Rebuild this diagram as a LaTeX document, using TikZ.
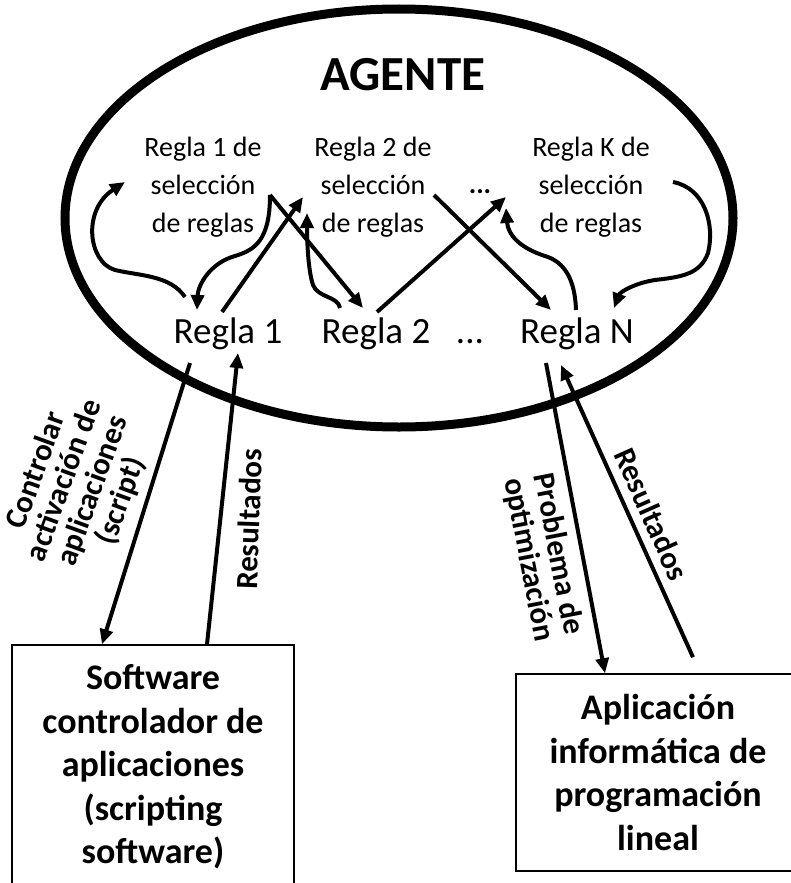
\documentclass[tikz,border=0pt]{standalone}
\usepackage{fontspec}
\setmainfont{Carlito}
\usetikzlibrary{arrows.meta,calc}

\begin{document}
\begin{tikzpicture}[x=1pt,y=-1pt,>={Triangle[length=15pt,width=13pt]}]
\tikzstyle{sel}=[inner sep=0,align=center,font=\fontsize{28}{38}\selectfont]
\tikzstyle{rule}=[inner sep=0,anchor=base,font=\fontsize{37}{44}\selectfont]
\tikzstyle{lab}=[inner sep=0,align=center,font=\bfseries\fontsize{31}{30}\selectfont]
\tikzstyle{app}=[draw,line width=1.5pt,inner sep=0,align=center,font=\bfseries\fontsize{36}{43.5}\selectfont]
\tikzstyle{ar}=[->,line width=4pt]
\useasboundingbox (0,0) rectangle (791,883);
\clip (0,0) rectangle (791,883);
% the agent
\draw[line width=9pt] (399,218) ellipse [x radius=334,y radius=209];
\node[inner sep=0,anchor=base,font=\bfseries\fontsize{49}{58}\selectfont] (ag) at (403,90) {AGENTE};
% selection rules
\node[sel] (s1) at (203,187) {Regla 1 de\\selección\\de reglas};
\node[sel] (s2) at (373,187) {Regla 2 de\\selección\\de reglas};
\node[inner sep=0,anchor=base,font=\bfseries\fontsize{28}{38}\selectfont] (dotsU) at (480,193) {...};
\node[sel] (sK) at (591,187) {Regla K de\\selección\\de reglas};
% rules
\node[rule] (r1) at (228,343) {Regla 1};
\node[rule] (r2) at (376,343) {Regla 2};
\node[rule] (dotsL) at (470,343) {...};
\node[rule] (rN) at (577,343) {Regla N};
% applications
\node[app,minimum width=282,minimum height=244] (sw) at (153,767) {Software\\controlador de\\aplicaciones\\(scripting\\software)};
\node[app,minimum width=284,minimum height=197] (lp) at (658,772.5) {Aplicación\\informática de\\programación\\lineal};
% arrows inside the agent
\draw[ar] ($(r1.base)+(-43,-46)$) .. controls (170,275) and (140,276) .. (115,270) .. controls (88,262) and (82,210) .. ($(s1.center)+(-78,-5)$);
\draw[ar] ($(s1.center)+(67,8)$) .. controls (270,240) and (255,250) .. (235,256) .. controls (210,263) and (198,285) .. ($(r1.base)+(-31,-33)$);
\draw[ar] ($(r1.base)+(-6,-31)$) -- ($(s2.center)+(-70,10)$);
\draw[ar] ($(s1.center)+(67,8)$) -- ($(r2.base)+(-13,-35)$);
\draw[ar] ($(r2.base)+(-36,-35)$) .. controls (338,296) and (318,298) .. (313,285) .. controls (308,270) and (307,240) .. ($(s2.center)+(-66,26)$);
\draw[ar] ($(r2.base)+(1,-31)$) -- ($(dotsU.base)+(26,4)$);
\draw[ar] ($(s2.center)+(61,8)$) -- ($(rN.base)+(-26,-33)$);
\draw[ar] ($(rN.base)+(-1,-33)$) .. controls (575,280) and (565,262) .. (545,256) .. controls (520,248) and (508,235) .. ($(sK.center)+(-85,21)$);
\draw[ar] ($(sK.center)+(82,-5)$) .. controls (705,188) and (715,225) .. (708,253) .. controls (700,275) and (680,277) .. (655,280) .. controls (635,283) and (620,292) .. ($(rN.base)+(37,-35)$);
% arrows to the applications
\draw[ar] ($(r1.base)+(-38,20)$) -- ($(sw.north)+(-51,0)$);
\draw[ar] ($(sw.north)+(54,0)$) -- ($(r1.base)+(10,10)$);
\draw[ar] ($(rN.base)+(-31,20)$) -- ($(lp.north)+(-53,0)$);
\draw[ar] ($(lp.north)+(35,-16)$) -- ($(rN.base)+(-16,22)$);
\node[lab,rotate=70] (ctl) at (79,486) {Controlar\\activación de\\aplicaciones\\(script)};
\node[lab,rotate=88] (res1) at (249,519) {Resultados};
\node[lab,rotate=-79] (opt) at (543,557) {Problema de\\optimización};
\node[lab,rotate=-66] (res2) at (652,514) {Resultados};
\end{tikzpicture}
\end{document}
